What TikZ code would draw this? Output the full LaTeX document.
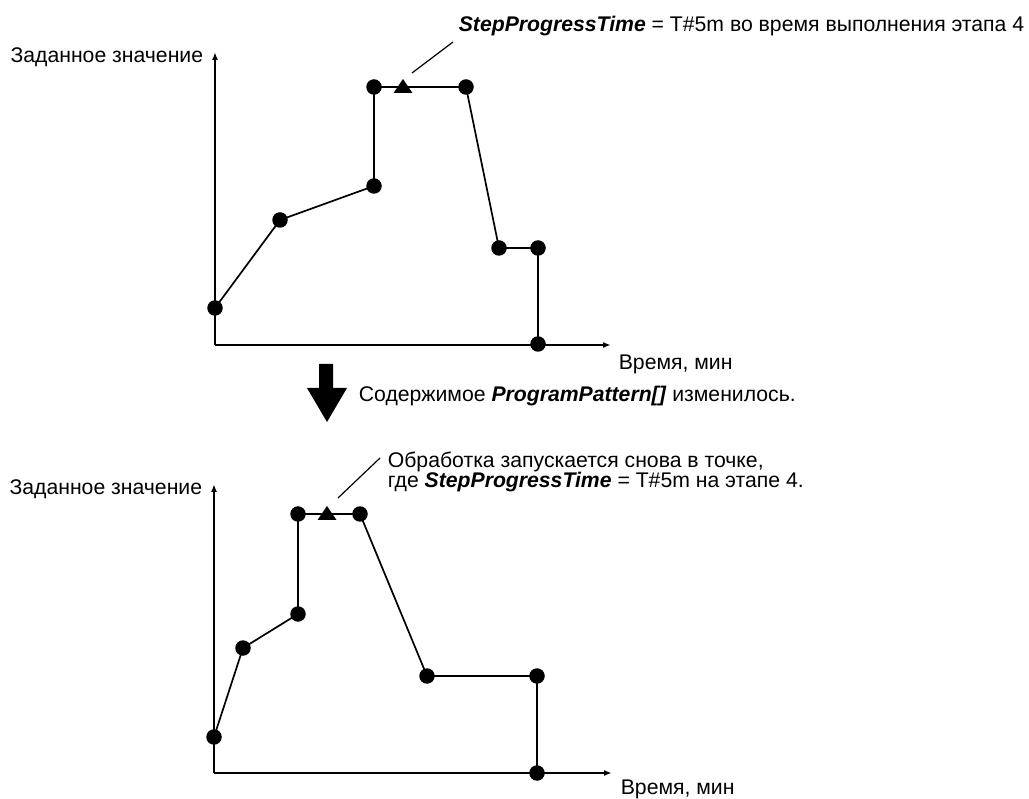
\documentclass[tikz,border=0pt]{standalone}
\usepackage{fontspec}
\setmainfont{Liberation Sans}
\usetikzlibrary{arrows.meta,calc}
\begin{document}
\begin{tikzpicture}[x=1pt,y=-1pt,
  line width=1.7pt,
  dot/.style={circle,fill=black,draw=none,minimum size=15.5pt,inner sep=0pt},
  axis/.style={line width=1.7pt,-{Latex[length=8pt,width=6pt]}},
  curve/.style={line width=1.7pt,line join=round},
  leader/.style={line width=1.2pt},
  lbl/.style={inner sep=0pt,font=\fontsize{21.2}{20.5}\selectfont},
  marker/.style={fill=black}]
\useasboundingbox (0,0) rectangle (1029,799);

% ---------- upper chart ----------
\coordinate (o1) at (215,345);
\coordinate (ytop1) at (215,52);
\coordinate (xend1) at (611,345);
\draw[axis] (o1) -- (ytop1);
\draw[axis] (o1) -- (xend1);
\node[lbl,anchor=east] (ylab1) at (204,57) {Заданное значение};
\node[lbl,anchor=base west] (xlab1) at (618,370) {Время, мин};

\node[dot] (a1) at (215,308) {};
\node[dot] (a2) at (280,220) {};
\node[dot] (a3) at (374,186) {};
\node[dot] (a4) at (374,87) {};
\node[dot] (a5) at (466,87) {};
\node[dot] (a6) at (499,248) {};
\node[dot] (a7) at (538,248) {};
\node[dot] (a8) at (538,344) {};
\draw[curve] (a1.center) -- (a2.center) -- (a3.center) -- (a4.center) -- (a5.center)
  -- (a6.center) -- (a7.center) -- (a8.center);

% progress marker on step 4
\coordinate (m1) at (403,87);
\fill[marker] ($(m1)+(-9.5,6)$) -- ++(19,0) -- ($(m1)+(0,-8)$) -- cycle;
\coordinate (l1a) at (412,73);
\coordinate (l1b) at (453,42);
\draw[leader] (l1a) -- (l1b);
\node[lbl,anchor=base west] (note1) at (458,32)
  {\textbf{\textit{StepProgressTime}} = T\#5m во время выполнения этапа 4};

% ---------- transition ----------
\fill (319,364) -- (333,364) -- (333,388) -- (347,388) -- (327,422) -- (307,388) -- (319,388) -- cycle;
\node[lbl,anchor=base west] (change) at (358,402)
  {Содержимое \textbf{\textit{ProgramPattern[]}} изменилось.};

% ---------- lower chart ----------
\coordinate (o2) at (214,773);
\coordinate (ytop2) at (214,484);
\coordinate (xend2) at (612,773);
\draw[axis] (o2) -- (ytop2);
\draw[axis] (o2) -- (xend2);
\node[lbl,anchor=east] (ylab2) at (203,489) {Заданное значение};
\node[lbl,anchor=base west] (xlab2) at (620,794) {Время, мин};

\node[dot] (b1) at (214,737) {};
\node[dot] (b2) at (243,648) {};
\node[dot] (b3) at (298,614) {};
\node[dot] (b4) at (298,514) {};
\node[dot] (b5) at (360,514) {};
\node[dot] (b6) at (427,676) {};
\node[dot] (b7) at (537,676) {};
\node[dot] (b8) at (537,773) {};
\draw[curve] (b1.center) -- (b2.center) -- (b3.center) -- (b4.center) -- (b5.center)
  -- (b6.center) -- (b7.center) -- (b8.center);

\coordinate (m2) at (327,514);
\fill[marker] ($(m2)+(-9.5,6)$) -- ++(19,0) -- ($(m2)+(0,-8)$) -- cycle;
\coordinate (l2a) at (338,498);
\coordinate (l2b) at (380,458);
\draw[leader] (l2a) -- (l2b);
% two-line note: the base anchor sits on the last line
\node[lbl,anchor=base west,align=left] (note2) at (387,488)
  {Обработка запускается снова в точке,\\где \textbf{\textit{StepProgressTime}} = T\#5m на этапе 4.};
\end{tikzpicture}
\end{document}
